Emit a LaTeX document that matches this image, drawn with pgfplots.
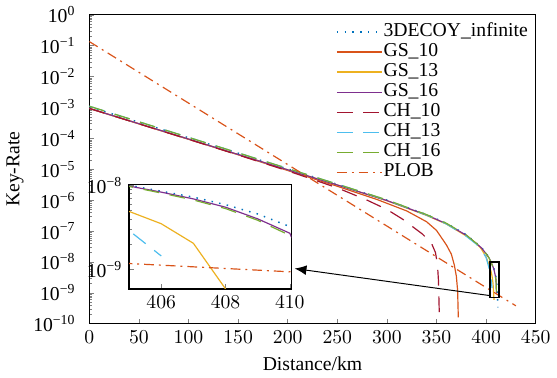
\documentclass[border=0pt]{standalone}
\usepackage{fontspec}
\setmainfont{Liberation Serif}
\usepackage{pgfplots}
\pgfplotsset{compat=1.18}
\usepackage{pgfplotstable}
\usetikzlibrary{arrows.meta,calc}
\definecolor{c1}{rgb}{0,0.447,0.741}
\definecolor{c2}{rgb}{0.85,0.325,0.098}
\definecolor{c3}{rgb}{0.929,0.694,0.125}
\definecolor{c4}{rgb}{0.494,0.184,0.556}
\definecolor{c5}{rgb}{0.635,0.078,0.184}
\definecolor{c6}{rgb}{0.301,0.745,0.933}
\definecolor{c7}{rgb}{0.466,0.674,0.188}
\newcommand{\tp}[1]{10\textsuperscript{#1}}
\pgfplotsset{
  sdecoy/.style={c1, line width=0.75pt, dash pattern=on 0.75pt off 3.2pt},
  sgs10/.style={c2, line width=0.6pt, solid},
  sgs13/.style={c3, line width=0.6pt, solid},
  sgs16/.style={c4, line width=0.6pt, solid},
  sch10/.style={c5, line width=0.6pt, dash pattern=on 8pt off 5.5pt},
  sch13/.style={c6, line width=0.6pt, dash pattern=on 8pt off 5.5pt},
  sch16/.style={c7, line width=0.6pt, dash pattern=on 8pt off 5.5pt},
  splob/.style={c2, line width=0.6pt, dash pattern=on 5pt off 2.5pt on 1pt off 2.5pt},
}
\pgfplotstableread{
x y
0 1.06e-3
50 3.311e-4
100 1.047e-4
150 3.311e-5
200 1.023e-5
250 3.236e-6
300 1.0e-6
340 3.388e-7
360 1.778e-7
380 7.586e-8
395 3.02e-8
400 1.905e-8
403 1.38e-8
405 1.0e-8
406 8.51e-9
407 7.24e-9
408 5.89e-9
409 4.57e-9
410 3.24e-9
411 1.585e-9
412 3.39e-10
}\tdecoy
\pgfplotstableread{
x y
0 9.33e-4
50 2.95e-4
100 9.33e-5
150 2.95e-5
200 9.12e-6
250 2.82e-6
290 1.05e-6
320 4.47e-7
340 2.0e-7
350 1.05e-7
360 3.55e-8
365 1.78e-8
368 7.9e-9
370 3.5e-9
371.3 1.2e-9
372 1.6e-10
}\tgsten
\pgfplotstableread{
x y
0 9.33e-4
50 2.98e-4
100 9.5e-5
150 3.0e-5
200 9.6e-6
250 3.1e-6
300 9.6e-7
340 3.2e-7
360 1.68e-7
380 6.9e-8
390 4.0e-8
395 2.7e-8
400 1.45e-8
403 8.0e-9
405 4.9e-9
406 3.5e-9
407 2.05e-9
408 5.9e-10
}\tgsthirteen
\pgfplotstableread{
x y
0 9.33e-4
50 2.98e-4
100 9.5e-5
150 3.0e-5
200 9.6e-6
250 3.1e-6
300 9.7e-7
340 3.3e-7
360 1.72e-7
380 7.3e-8
395 2.92e-8
400 1.85e-8
403 1.34e-8
405 9.8e-9
406 8.3e-9
407 6.9e-9
408 5.5e-9
409 4.0e-9
410 2.7e-9
410.5 1.0e-9
}\tgssixteen
\pgfplotstableread{
x y
0 9.33e-4
50 2.95e-4
100 9.33e-5
150 2.9e-5
200 8.9e-6
250 2.5e-6
280 1.0e-6
300 5.0e-7
316 2.4e-7
336 7.9e-8
345 4.0e-8
349 2.0e-8
351 8.0e-9
352 2.5e-9
353 1.3e-10
}\tchten
\pgfplotstableread{
x y
0 1.1e-3
50 3.45e-4
100 1.08e-4
150 3.4e-5
200 1.06e-5
250 3.3e-6
300 1.0e-6
340 3.3e-7
360 1.7e-7
380 6.8e-8
390 3.8e-8
395 2.55e-8
400 1.4e-8
403 6.3e-9
405 2.9e-9
406 1.45e-9
}\tchthirteen
\pgfplotstableread{
x y
0 1.1e-3
50 3.45e-4
100 1.08e-4
150 3.4e-5
200 1.06e-5
250 3.3e-6
300 1.02e-6
340 3.4e-7
360 1.78e-7
380 7.45e-8
395 2.95e-8
400 1.86e-8
403 1.34e-8
405 9.7e-9
406 8.1e-9
407 6.7e-9
408 5.3e-9
409 3.85e-9
410 2.55e-9
410.5 9.0e-10
}\tchsixteen
\pgfplotstableread{
x y
0 0.136
100 1.39e-3
200 1.42e-5
300 1.45e-7
400 1.48e-9
430 3.8e-10
}\tplob
\begin{document}
\begin{tikzpicture}[font=\fontsize{10}{12}\selectfont]
\begin{axis}[
  name=main,
  scale only axis, width=226.9pt, height=157pt,
  xmin=0, xmax=450, ymode=log, ymin=1e-10, ymax=1,
  xtick={0,50,...,450},
  ytick={1e-10,1e-9,1e-8,1e-7,1e-6,1e-5,1e-4,1e-3,1e-2,1e-1,1},
  yticklabels={\tp{−10},\tp{−9},\tp{−8},\tp{−7},\tp{−6},\tp{−5},\tp{−4},\tp{−3},\tp{−2},\tp{−1},\tp{0}},
  xtick pos=bottom, ytick pos=left, tick align=inside,
  major tick length=2.6pt, minor tick length=1.6pt,
  yticklabel style={xshift=-3.5pt},
  ylabel shift=-2pt,
  axis line style={line width=0.5pt},
  xlabel={Distance/km}, ylabel={Key-Rate},
  legend cell align=left,
  legend image code/.code={\draw[#1, line width=0.8pt] (0pt,0pt) -- (23pt,0pt);},
  legend style={at={(1,1)}, anchor=north east, xshift=-3.5pt, yshift=-3.5pt,
    draw=none, fill=none, inner sep=0pt, row sep=0pt,
    nodes={inner sep=0.3pt, text height=7pt, text depth=2.6pt},
    every legend text/.append style={xshift=2.5pt}},
]
\addplot[sdecoy] table {\tdecoy};
\addlegendentry{3DECOY\_infinite}
\addplot[sgs10] table {\tgsten};
\addlegendentry{GS\_10}
\addplot[sgs13] table {\tgsthirteen};
\addlegendentry{GS\_13}
\addplot[sgs16] table {\tgssixteen};
\addlegendentry{GS\_16}
\addplot[sch10] table {\tchten};
\addlegendentry{CH\_10}
\addplot[sch13] table {\tchthirteen};
\addlegendentry{CH\_13}
\addplot[sch16] table {\tchsixteen};
\addlegendentry{CH\_16}
\addplot[splob] table {\tplob};
\addlegendentry{PLOB}
\draw[black, line width=0.7pt] (axis cs:404,1e-8) rectangle (axis cs:413,7e-10);
\draw[black, line width=0.5pt, -{Latex[length=6pt,width=5pt]}] (axis cs:404,8.1e-10) -- (axis cs:207,6.1e-9);
\end{axis}
\begin{axis}[
  at={($(main.south west)+(20.15pt,17.7pt)$)}, anchor=south west,
  scale only axis, width=82.5pt, height=53pt,
  xmin=405, xmax=410.05, ymode=log, ymin=5.9e-10, ymax=1.02e-8,
  xtick={406,408,410},
  ytick={1e-9,1e-8}, yticklabels={\tp{−9},\tp{−8}},
  xtick pos=bottom, ytick pos=left, tick align=inside,
  major tick length=2.6pt, minor tick length=1.6pt,
  axis line style={line width=0.7pt},
  axis background/.style={fill=white},
]
\addplot[sdecoy] table {\tdecoy};
\addplot[sgs10] table {\tgsten};
\addplot[sgs13] table {\tgsthirteen};
\addplot[sgs16] table {\tgssixteen};
\addplot[sch10] table {\tchten};
\addplot[sch13] table {\tchthirteen};
\addplot[sch16] table {\tchsixteen};
\addplot[splob] table {\tplob};
\end{axis}
\end{tikzpicture}
\end{document}
